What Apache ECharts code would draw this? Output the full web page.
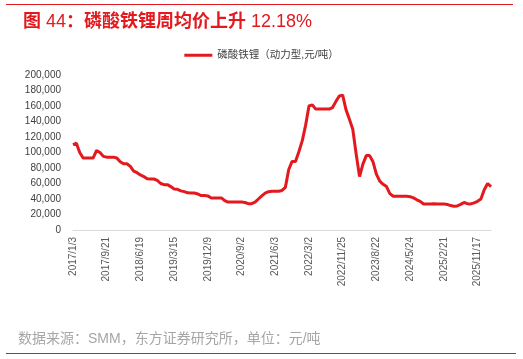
<!DOCTYPE html>
<html>
<head>
<meta charset="utf-8">
<script src="https://cdn.jsdelivr.net/npm/echarts@6/dist/echarts.min.js"></script>
<style>
  html, body { margin: 0; padding: 0; background: #fff; }
  #chart { width: 523px; height: 359px; }
</style>
</head>
<body>
<div id="chart"></div>
<script>
// x tick labels, one every 10 points
const tickLabels = [
  '2017/1/3', '2017/9/21', '2018/6/19', '2019/3/15', '2019/12/9', '2020/9/2', '2021/6/3',
  '2022/3/2', '2022/11/25', '2023/8/22', '2024/5/24', '2025/2/21', '2025/11/17'
];

// 磷酸铁锂（动力型），元/吨，
const lfpPrice = [
  110000, 112000, 100000, 92800, 92800, 92800, 93000, 102600, 100000, 95000,
  94000, 94000, 94000, 93000, 88000, 85500, 85500, 82000, 76000, 74000,
  71000, 69000, 66000, 65800, 65800, 64000, 60000, 58500, 58500, 56000,
  53000, 52500, 50500, 49500, 48000, 47800, 47800, 46500, 44500, 44500,
  44000, 41400, 41400, 41400, 41400, 38000, 36000, 36000, 36000, 36000,
  36000, 35500, 34000, 34000, 36000, 40000, 44000, 47500, 49500, 50000,
  50000, 50000, 51000, 55000, 78000, 88500, 88500, 101000, 115000, 135000,
  160000, 161500, 156000, 156000, 156000, 156000, 156000, 158000, 166000, 173000,
  174000, 155000, 143000, 130000, 98000, 69000, 85000, 96000, 96000, 88000,
  72000, 63000, 59000, 56000, 47000, 43500, 43500, 43500, 43500, 43500,
  43000, 41500, 39000, 37000, 33500, 33700, 33700, 34000, 33700, 33700,
  33700, 33000, 31500, 30600, 31000, 33000, 35500, 34000, 33700, 35000,
  37000, 40000, 52000, 60000, 56000
];

const red = '#e3191e';
const txtFont = '"Liberation Sans", "Noto Sans CJK SC", sans-serif';

const chart = echarts.init(document.getElementById('chart'));

const option = {
  animation: false,
  title: {
    text: '{b|图} {n|44}{b|：磷酸铁锂周均价上升} {n|12.18%}',
    left: 18,
    top: 8,
    textStyle: {
      rich: {
        b: { color: red, fontSize: 18, fontWeight: 'bold', fontFamily: txtFont },
        n: { color: red, fontSize: 18, fontWeight: 'normal', fontFamily: txtFont }
      }
    }
  },
  legend: {
    top: 45,
    left: 'center',
    icon: 'rect',
    itemWidth: 28,
    itemHeight: 3,
    itemGap: 10,
    textStyle: { color: '#404040', fontSize: 10.5, fontFamily: txtFont },
    data: ['磷酸铁锂（动力型,元/吨）']
  },
  grid: { left: 73, right: 32, top: 75, bottom: 129, containLabel: false },
  xAxis: {
    type: 'value',
    min: 0,
    max: lfpPrice.length - 1,
    interval: 10,
    axisLine: { lineStyle: { color: '#d9d9d9', width: 1 } },
    axisTick: { show: false },
    splitLine: { show: false },
    axisLabel: {
      rotate: 90,
      margin: 7,
      fontSize: 10,
      color: '#595959',
      fontFamily: txtFont,
      showMaxLabel: false,
      formatter: (v) => (v % 10 === 0 && tickLabels[v / 10]) ? tickLabels[v / 10] : ''
    }
  },
  yAxis: {
    type: 'value',
    min: 0,
    max: 200000,
    interval: 20000,
    axisLine: { show: false },
    axisTick: { show: false },
    splitLine: { show: false },
    axisLabel: {
      margin: 12,
      fontSize: 10,
      color: '#404040',
      fontFamily: txtFont,
      formatter: (v) => v.toLocaleString('en-US')
    }
  },
  series: [
    {
      name: '磷酸铁锂（动力型,元/吨）',
      type: 'line',
      showSymbol: false,
      symbol: 'none',
      color: red,
      lineStyle: { color: red, width: 3 },
      data: lfpPrice.map((v, i) => [i, v])
    }
  ],
  graphic: [
    {
      type: 'line',
      shape: { x1: 6, y1: 4.5, x2: 513, y2: 4.5 },
      style: { stroke: red, lineWidth: 1 }
    },
    {
      type: 'text',
      left: 18,
      top: 332,
      style: {
        text: '数据来源：SMM，东方证券研究所，单位：元/吨',
        fill: '#a6a6a6',
        fontSize: 14,
        fontFamily: txtFont
      }
    },
    {
      type: 'line',
      shape: { x1: 6, y1: 353.5, x2: 516, y2: 353.5 },
      style: { stroke: red, lineWidth: 1 }
    }
  ]
};

chart.setOption(option);
</script>
</body>
</html>
